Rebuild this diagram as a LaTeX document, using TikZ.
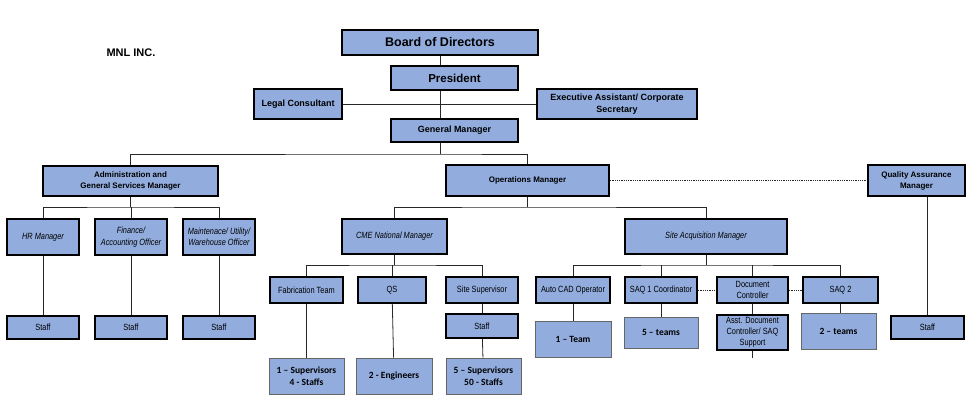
\documentclass[tikz,border=0pt]{standalone}
\usepackage{fontspec}
\setmainfont{Liberation Sans}
\newfontfamily\nrwfont[FakeStretch=0.82]{Liberation Sans}
\newfontfamily\carlitofont{Carlito}
\usetikzlibrary{backgrounds}
\definecolor{boxfill}{RGB}{145,172,221}
\definecolor{linec}{RGB}{40,40,40}
\tikzset{
  box/.style={draw=black, line width=1.4pt, fill=boxfill, inner sep=0pt, align=center},
  thinbox/.style={draw=gray!80!black, line width=0.6pt, fill=boxfill, inner sep=0pt, align=center},
  conn/.style={draw=linec, line width=0.8pt},
  dotconn/.style={draw=linec, line width=0.8pt, densely dotted},
  big/.style={font=\bfseries\fontsize{12.5}{15}\selectfont},
  pres/.style={font=\bfseries\fontsize{11.5}{14}\selectfont},
  mid/.style={font=\bfseries\fontsize{9}{12}\selectfont},
  sml/.style={font=\bfseries\fontsize{8}{11}\selectfont},
  ital/.style={font=\nrwfont\itshape\fontsize{9}{11.5}\selectfont},
  reg/.style={font=\nrwfont\fontsize{9}{11}\selectfont},
  cnt/.style={font=\carlitofont\bfseries\fontsize{9.5}{12.5}\selectfont},
}
\begin{document}
\begin{tikzpicture}[x=1pt,y=-1pt]
\useasboundingbox (0,0) rectangle (972,400);
\node[font=\bfseries\fontsize{11}{13}\selectfont] (mnl) at (131,53) {MNL INC.};
% top
\node[box,big,minimum width=196pt,minimum height=25pt] (board) at (440,42.5) {Board of Directors};
\node[box,pres,minimum width=127pt,minimum height=24pt] (pres) at (454.5,78) {President};
\node[box,mid,minimum width=88pt,minimum height=30pt] (legal) at (298,104) {Legal Consultant};
\node[box,mid,minimum width=160pt,minimum height=30pt] (exec) at (617,104) {Executive Assistant/ Corporate\\Secretary};
\node[box,mid,minimum width=127pt,minimum height=23pt] (gm) at (454.5,130.5) {General Manager};
% second level
\node[box,sml,minimum width=175pt,minimum height=30pt] (adm) at (130.5,181) {Administration and\\General Services Manager};
\node[box,sml,minimum width=163pt,minimum height=31pt] (ops) at (527.5,180.5) {Operations Manager};
\node[box,sml,minimum width=97pt,minimum height=31pt] (qa) at (916.5,180.5) {Quality Assurance\\Manager};
% admin
\node[box,ital,minimum width=72pt,minimum height=36pt] (hr) at (43,237) {HR Manager};
\node[box,ital,minimum width=72pt,minimum height=36pt] (fin) at (131,237) {Finance/\\Accounting Officer};
\node[box,ital,minimum width=72pt,minimum height=36pt] (mnt) at (219,237) {Maintenace/ Utility/\\Warehouse Officer};
\node[box,reg,minimum width=72pt,minimum height=23pt] (st1) at (43,327.5) {Staff};
\node[box,reg,minimum width=72pt,minimum height=23pt] (st2) at (131,327.5) {Staff};
\node[box,reg,minimum width=72pt,minimum height=23pt] (st3) at (219,327.5) {Staff};
% ops
\node[box,ital,minimum width=105pt,minimum height=35pt] (cme) at (394.5,236.5) {CME National Manager};
\node[box,ital,minimum width=162pt,minimum height=35pt] (sam) at (706,236.5) {Site Acquisition Manager};
\node[box,reg,minimum width=73pt,minimum height=26pt] (fab) at (306.5,290) {Fabrication Team};
\node[box,reg,minimum width=68pt,minimum height=26pt] (qs) at (392,290) {QS};
\node[box,reg,minimum width=72pt,minimum height=26pt] (ssup) at (482,290) {Site Supervisor};
\node[box,reg,minimum width=72pt,minimum height=24pt] (sstaff) at (482,326) {Staff};
\node[thinbox,cnt,minimum width=75pt,minimum height=36pt] (sup1) at (306.5,376) {1 – Supervisors\\4 - Staffs};
\node[thinbox,cnt,minimum width=76pt,minimum height=36pt] (eng) at (394,376) {2 - Engineers};
\node[thinbox,cnt,minimum width=75pt,minimum height=36pt] (sup5) at (483.5,376) {5 – Supervisors\\50 - Staffs};
\node[box,reg,minimum width=74pt,minimum height=26pt] (cad) at (573,290) {Auto CAD Operator};
\node[box,reg,minimum width=72pt,minimum height=26pt] (saq1) at (661,290) {SAQ 1 Coordinator};
\node[box,reg,minimum width=71pt,minimum height=26pt] (doc) at (752.5,290) {Document\\Controller};
\node[box,reg,minimum width=75pt,minimum height=26pt] (saq2) at (840.5,290) {SAQ 2};
\node[thinbox,cnt,minimum width=76pt,minimum height=36pt] (team1) at (573,339) {1 – Team};
\node[thinbox,cnt,minimum width=74pt,minimum height=31pt] (teams5) at (661,332.5) {5 – teams};
\node[box,reg,minimum width=71pt,minimum height=35pt] (asst) at (752.5,332.5) {Asst. Document\\Controller/ SAQ\\Support};
\node[thinbox,cnt,minimum width=75pt,minimum height=36pt] (teams2) at (838.5,331) {2 – teams};
\node[box,reg,minimum width=73pt,minimum height=23pt] (qst) at (927.5,327.5) {Staff};
\coordinate (b1) at (437,154);
\coordinate (b2) at (130,207);
\coordinate (b3) at (528,207);
\coordinate (b4) at (391,265);
\coordinate (b5) at (707,265);
\coordinate (stub) at (752.5,358);
\begin{pgfonlayer}{background}
\draw[conn] (board.south) -- (board.south |- b1);
\draw[conn] (legal) -- (exec);
\draw[conn] (adm.north) |- (b1) -| (ops.north);
\draw[dotconn] (ops.east) -- (qa.west);
\draw[conn] (qst.north) -- (qst.north |- qa.south);
\draw[conn] (adm.south) -- (adm.south |- b2);
\draw[conn] (hr.north) |- (b2) -| (mnt.north);
\draw[conn] (fin.north) -- (fin.north |- b2);
\draw[conn] (hr) -- (st1);
\draw[conn] (fin) -- (st2);
\draw[conn] (mnt) -- (st3);
\draw[conn] (ops.south) -- (ops.south |- b3);
\draw[conn] (cme.north) |- (b3) -| (sam.north);
\draw[conn] (cme.south) -- (cme.south |- b4);
\draw[conn] (fab.north) |- (b4) -| (ssup.north);
\draw[conn] (qs.north) -- (qs.north |- b4);
\draw[conn] (fab) -- (sup1);
\draw[conn] (qs) -- (eng);
\draw[conn] (ssup) -- (sstaff);
\draw[conn] (sstaff) -- (sup5);
\draw[conn] (sam.south) -- (sam.south |- b5);
\draw[conn] (cad.north) |- (b5) -| (saq2.north);
\draw[conn] (saq1.north) -- (saq1.north |- b5);
\draw[conn] (doc.north) -- (doc.north |- b5);
\draw[conn] (cad) -- (team1);
\draw[conn] (saq1) -- (teams5);
\draw[conn] (doc) -- (asst);
\draw[conn] (saq2.south) -- (saq2.south |- teams2.north);
\draw[conn] (asst.south) -- (stub);
\draw[dotconn] (saq1.east) -- (doc.west);
\draw[dotconn] (doc.east) -- (saq2.west);
\end{pgfonlayer}
\end{tikzpicture}
\end{document}
